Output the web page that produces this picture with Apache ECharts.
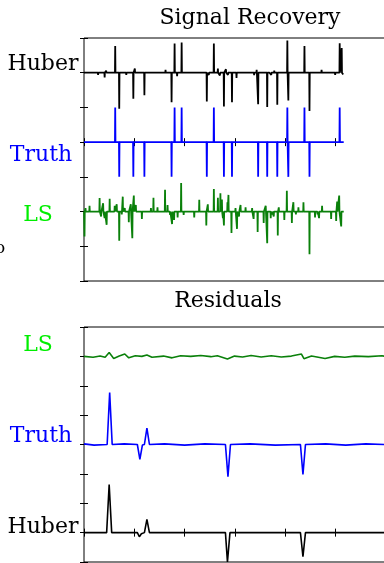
<!DOCTYPE html>
<html>
<head>
<meta charset="utf-8">
<script src="https://cdn.jsdelivr.net/npm/echarts@6/dist/echarts.min.js"></script>
<style>
html,body{margin:0;padding:0;background:#fff;}
#chart{width:384px;height:563px;}
</style>
</head>
<body>
<div id="chart"></div>
<script>
// ---- Top panel: "Signal Recovery" (x in sample index, offsets: Huber +2, Truth 0, LS -2)
const truthPos = [62,70,98,120,174,180,194,244,258,278,294,346,364,384,404,406,438,448,508];
const truthVal = [1,-1,-1,-1,-1,1,1,-1,1,-1,-1,-1,-1,-1,1,-1,1,-1,1];

const huberPos = [16,22,28,34,41,44,50,62,70,84,98,101,106,112,120,140,162,166,174,180,185,194,212,224,234,244,248,258,266,270,278,282,286,294,298,303,312,322,332,338,343,346,352,356,364,368,372,378,384,390,396,404,406,412,426,432,438,442,448,456,464,472,484,492,499,504,508,512,515];
const huberVal = [-0.05,0.04,-0.06,0.05,-0.14,0.06,-0.04,0.77,-1.04,-0.06,-0.75,0.12,0.05,-0.05,-0.65,0.05,0.08,-0.05,-0.85,0.84,-0.1,0.87,-0.04,0.03,-0.05,-0.83,-0.06,0.84,0.12,-0.08,-0.97,0.1,-0.06,-0.85,-0.05,-0.15,0.03,-0.04,0.03,-0.07,0.08,-0.91,-0.05,0.05,-0.99,0.04,-0.06,0.06,-0.92,-0.04,0.05,0.93,-0.8,0.03,0.05,-0.05,0.77,0.05,-1.1,0.04,-0.04,0.08,-0.03,0.03,-0.06,0.05,0.85,0.71,-0.05];

const lsPos = [1,3,11,31,34,38,41,45,51,61,65,70,75,77,81,89,93,96,99,103,115,133,138,146,161,166,171,175,179,186,193,198,219,229,243,246,258,266,271,274,276,278,285,287,293,301,304,308,311,321,334,337,345,357,361,364,371,374,377,385,387,398,403,413,416,421,426,436,443,448,459,464,467,473,491,501,503,507,511];
const lsVal = [-0.72,0.1,0.17,0.39,-0.14,0.24,-0.19,-0.38,0.37,0.17,0.21,-0.84,-0.08,0.43,0.1,-0.31,0.21,-0.77,0.46,0.19,-0.21,0.1,0.4,0.12,0.63,0.19,-0.1,-0.36,-0.24,-0.17,0.82,-0.1,-0.17,0.34,-0.4,0.21,0.65,0.4,0.53,0.35,-0.19,-0.4,0.27,0.48,-0.62,0.1,-0.5,-0.14,0.19,0.12,0.1,-0.21,-0.59,-0.33,0.17,-0.91,-0.19,-0.08,-0.14,-0.69,0.12,-0.24,0.6,-0.33,0.27,-0.08,0.12,0.27,0.05,-1.23,-0.17,-0.08,-0.19,0.17,-0.21,-0.27,0.29,0.46,-0.43];

const signalEnd = 516;
const signalOffsets = {Huber: 2, Truth: 0, LS: -2};

// ---- Bottom panel: "Residuals" (offsets: LS +6, Truth +3, Huber 0)
const resLsX = [0,2,18,32,42,50,59,70,81,89,102,115,125,135,158,175,192,212,232,252,265,285,299,315,332,352,372,392,412,432,437,452,479,498,518,538,565,592,600];
const resLsY = [0,0,-0.03,0.01,-0.03,0.13,-0.07,0.01,0.08,-0.05,0.02,0,0.05,-0.03,0.01,-0.05,0.02,0,0.03,-0.01,0.02,-0.09,0.01,-0.02,0.03,-0.02,0.02,-0.02,0.01,0.08,-0.08,0.01,-0.07,0,-0.03,0.01,-0.01,0.02,0];
const resTruthX = [0,20,46,51,56,80,106,111,116,120,125,130,160,200,240,281,286,291,330,380,430,435,440,480,520,560,600];
const resTruthY = [0.02,-0.02,0,1.77,0,0.02,0,-0.51,-0.02,0,0.56,0,0.02,-0.02,0.02,0,-1.1,0,0.02,-0.02,0,-1.02,0,0.02,-0.02,0.02,0];
const resHuberX = [0,45,50,55,106,110,114,120,125,130,281,285,290,430,435,440,600];
const resHuberY = [0,0,1.64,0,0,-0.14,-0.04,0,0.45,0,0,-1.0,0,0,-0.82,0,0];
const residualOffsets = {LS: 6, Truth: 3, Huber: 0};

// ---- build line data from the arrays above
function spikeData(pos, val, base) {
  const idx = pos.map((p, i) => i).sort((a, b) => pos[a] - pos[b]);
  const pts = [[0, base]];
  idx.forEach(i => {
    pts.push([pos[i] - 0.5, base], [pos[i], base + val[i]], [pos[i] + 0.5, base]);
  });
  pts.push([signalEnd, base]);
  return pts;
}
function pairData(xs, ys, base) {
  return xs.map((x, i) => [x, ys[i] + base]);
}

const BLACK = '#000000', BLUE = '#0000ff', GREEN = '#0a800a', LIME = '#00ee00';
const FONT = '"DejaVu Serif", serif';

function xAx(grid, pos) {
  return {gridIndex: grid, type: 'value', min: 0, max: 600, interval: 100, position: pos,
    axisLine: {show: false}, axisLabel: {show: false}, splitLine: {show: false},
    axisTick: {show: true, inside: true, length: 4, lineStyle: {color: '#000', width: 1}}};
}
function yAx(grid, pos, min, max) {
  return {gridIndex: grid, type: 'value', min: min, max: max, interval: 1, position: pos,
    axisLine: {show: false}, axisLabel: {show: false}, splitLine: {show: false},
    axisTick: {show: true, inside: true, length: 4, lineStyle: {color: '#000', width: 1}}};
}
function lineSeries(data, color, xi, yi, w) {
  return {type: 'line', data: data, xAxisIndex: xi, yAxisIndex: yi, showSymbol: false, symbol: 'none',
    lineStyle: {color: color, width: w, join: 'bevel'}, itemStyle: {color: color}, animation: false, silent: true};
}
function label(text, x, y, color, size, align) {
  return {type: 'text', x: x, y: y, silent: true,
    style: {text: text, fill: color, font: size + 'px ' + FONT, align: align || 'center', verticalAlign: 'middle',
      textAlign: align || 'center', textVerticalAlign: 'middle'}};
}

const chart = echarts.init(document.getElementById('chart'), null, {renderer: 'canvas'});
chart.setOption({
  animation: false,
  backgroundColor: '#ffffff',
  grid: [
    {left: 84, top: 38, width: 302, height: 243, outerBoundsMode: 'none', containLabel: false, show: true, borderColor: '#000', borderWidth: 1, backgroundColor: 'transparent'},
    {left: 84, top: 327, width: 302, height: 235, outerBoundsMode: 'none', containLabel: false, show: true, borderColor: '#000', borderWidth: 1, backgroundColor: 'transparent'}
  ],
  xAxis: [xAx(0, 'bottom'), xAx(0, 'top'), xAx(1, 'bottom'), xAx(1, 'top')],
  yAxis: [yAx(0, 'left', -4, 3), yAx(0, 'right', -4, 3), yAx(1, 'left', -1, 7), yAx(1, 'right', -1, 7)],
  series: [
    lineSeries(spikeData(lsPos, lsVal, signalOffsets.LS), GREEN, 0, 0, 1.8),
    lineSeries(spikeData(truthPos, truthVal, signalOffsets.Truth), BLUE, 0, 0, 1.8),
    lineSeries(spikeData(huberPos, huberVal, signalOffsets.Huber), BLACK, 0, 0, 1.8),
    lineSeries(pairData(resLsX, resLsY, residualOffsets.LS), GREEN, 2, 2, 1.6),
    lineSeries(pairData(resTruthX, resTruthY, residualOffsets.Truth), BLUE, 2, 2, 1.6),
    lineSeries(pairData(resHuberX, resHuberY, residualOffsets.Huber), BLACK, 2, 2, 1.6)
  ],
  graphic: [
    label('Signal Recovery', 250, 18, BLACK, 22),
    label('Huber', 43, 64, BLACK, 22),
    label('Truth', 41, 155, BLUE, 22),
    label('LS', 38, 215, LIME, 22),
    label('o', -5, 249, BLACK, 17, 'left'),
    label('Residuals', 228, 301, BLACK, 22),
    label('LS', 38, 345, LIME, 22),
    label('Truth', 41, 436, BLUE, 22),
    label('Huber', 43, 527, BLACK, 22)
  ]
});
</script>
</body>
</html>
